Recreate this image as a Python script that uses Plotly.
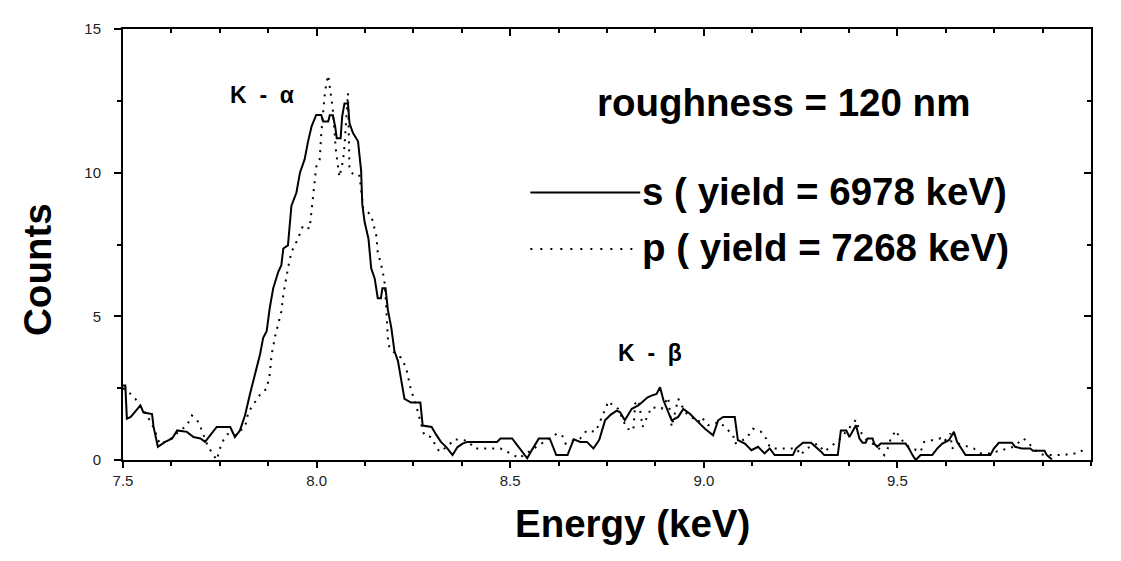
import plotly.graph_objects as go

# ---- data ----
s_energy = [7.500, 7.506, 7.510, 7.520, 7.545, 7.553, 7.575, 7.579, 7.590, 7.609, 7.627, 7.640, 7.665, 7.682,
            7.700, 7.712, 7.725, 7.742, 7.777, 7.789, 7.802, 7.815, 7.828, 7.841, 7.854, 7.862, 7.871, 7.879,
            7.888, 7.901, 7.909, 7.914, 7.926, 7.935, 7.948, 7.957, 7.969, 7.978, 7.987, 7.999, 8.012, 8.017,
            8.030, 8.034, 8.042, 8.048, 8.052, 8.062, 8.066, 8.072, 8.081, 8.085, 8.094, 8.107, 8.115, 8.118,
            8.124, 8.134, 8.141, 8.150, 8.158, 8.166, 8.170, 8.178, 8.184, 8.193, 8.201, 8.210, 8.218, 8.227,
            8.244, 8.268, 8.274, 8.297, 8.308, 8.321, 8.335, 8.351, 8.364, 8.377, 8.389, 8.466, 8.475, 8.505,
            8.518, 8.531, 8.544, 8.557, 8.574, 8.602, 8.613, 8.619, 8.648, 8.664, 8.681, 8.698, 8.715, 8.730,
            8.745, 8.760, 8.775, 8.784, 8.796, 8.814, 8.831, 8.845, 8.855, 8.865, 8.878, 8.887, 8.896, 8.917,
            8.934, 8.947, 8.964, 8.981, 9.003, 9.024, 9.037, 9.050, 9.080, 9.088, 9.106, 9.123, 9.140, 9.157,
            9.170, 9.183, 9.230, 9.238, 9.256, 9.277, 9.290, 9.303, 9.311, 9.346, 9.354, 9.368, 9.376, 9.384,
            9.393, 9.402, 9.410, 9.418, 9.423, 9.436, 9.440, 9.448, 9.457, 9.521, 9.530, 9.539, 9.547, 9.560,
            9.590, 9.603, 9.616, 9.633, 9.646, 9.654, 9.663, 9.676, 9.740, 9.749, 9.762, 9.796, 9.804, 9.821,
            9.843, 9.850, 9.880, 9.886, 9.899]
s_counts = [2.59, 2.59, 1.44, 1.50, 1.90, 1.65, 1.60, 1.15, 0.46, 0.63, 0.75, 1.03, 0.98, 0.80,
            0.75, 0.63, 0.86, 1.15, 1.15, 0.80, 1.03, 1.55, 2.30, 2.99, 3.68, 4.25, 4.48, 5.29,
            5.98, 6.55, 6.78, 7.36, 7.47, 8.85, 9.31, 10.00, 10.46, 11.09, 11.61, 12.01, 12.01, 11.78,
            11.78, 12.00, 12.00, 11.60, 11.20, 11.20, 11.95, 12.41, 12.41, 11.72, 11.38, 11.09, 10.06, 8.90,
            8.28, 7.70, 6.67, 6.32, 5.63, 5.63, 5.98, 5.98, 5.23, 4.60, 3.79, 3.45, 2.76, 2.13,
            2.00, 2.00, 1.20, 1.15, 0.90, 0.63, 0.45, 0.17, 0.45, 0.57, 0.63, 0.63, 0.75, 0.75,
            0.52, 0.29, 0.06, 0.37, 0.75, 0.75, 0.40, 0.17, 0.17, 0.72, 0.63, 0.63, 0.40, 0.70,
            1.38, 1.58, 1.72, 1.66, 1.38, 1.78, 1.90, 2.05, 2.18, 2.24, 2.30, 2.53, 2.07, 1.38,
            1.50, 1.78, 1.61, 1.38, 1.09, 0.86, 1.38, 1.50, 1.50, 0.69, 0.57, 0.34, 0.46, 0.23,
            0.40, 0.17, 0.17, 0.40, 0.60, 0.60, 0.46, 0.29, 0.17, 0.17, 1.03, 1.03, 0.80, 0.98,
            1.21, 0.75, 0.60, 0.60, 0.75, 0.75, 0.57, 0.46, 0.57, 0.57, 0.40, 0.17, 0.00, 0.17,
            0.17, 0.40, 0.57, 0.69, 0.98, 0.63, 0.46, 0.17, 0.17, 0.40, 0.60, 0.60, 0.46, 0.40,
            0.40, 0.32, 0.32, 0.17, 0.02]

p_energy = [7.500, 7.515, 7.532, 7.545, 7.560, 7.580, 7.595, 7.620, 7.645, 7.665, 7.678, 7.695, 7.710, 7.720,
            7.742, 7.755, 7.770, 7.790, 7.805, 7.815, 7.824, 7.840, 7.858, 7.871, 7.879, 7.884, 7.893, 7.909,
            7.914, 7.926, 7.935, 7.952, 7.965, 7.982, 7.991, 7.999, 8.008, 8.012, 8.020, 8.025, 8.030, 8.034,
            8.042, 8.050, 8.059, 8.068, 8.072, 8.081, 8.085, 8.098, 8.111, 8.120, 8.141, 8.154, 8.158, 8.167,
            8.175, 8.180, 8.184, 8.188, 8.205, 8.218, 8.231, 8.244, 8.252, 8.265, 8.278, 8.295, 8.308, 8.317,
            8.330, 8.342, 8.355, 8.381, 8.394, 8.407, 8.475, 8.510, 8.522, 8.557, 8.621, 8.634, 8.643, 8.664,
            8.681, 8.698, 8.720, 8.728, 8.754, 8.763, 8.779, 8.801, 8.818, 8.823, 8.832, 8.842, 8.857, 8.865,
            8.891, 8.908, 8.917, 8.934, 8.943, 8.951, 8.968, 8.986, 8.994, 9.011, 9.041, 9.058, 9.076, 9.080,
            9.110, 9.127, 9.148, 9.161, 9.170, 9.178, 9.240, 9.250, 9.265, 9.294, 9.311, 9.350, 9.393, 9.402,
            9.420, 9.449, 9.466, 9.475, 9.483, 9.496, 9.507, 9.530, 9.560, 9.569, 9.611, 9.620, 9.637, 9.641,
            9.658, 9.697, 9.716, 9.740, 9.800, 9.826, 9.839, 9.865, 9.880, 9.929, 9.950, 9.967, 9.985]
p_counts = [2.50, 2.36, 2.13, 1.85, 1.60, 1.10, 0.55, 0.70, 1.00, 1.20, 1.55, 1.32, 0.80, 0.46,
            0.00, 0.60, 0.90, 0.85, 1.05, 1.15, 1.67, 2.00, 2.36, 2.47, 2.99, 3.68, 4.31, 5.17,
            5.75, 6.67, 7.24, 7.70, 8.16, 8.05, 9.30, 10.20, 10.46, 11.35, 12.59, 13.10, 13.39, 12.93,
            12.18, 10.75, 9.85, 10.40, 10.92, 12.76, 10.10, 9.89, 9.89, 8.79, 8.51, 7.82, 7.24, 6.78,
            6.27, 5.29, 4.25, 3.91, 3.68, 3.56, 3.22, 2.41, 2.13, 1.50, 0.86, 0.80, 0.52, 0.29,
            0.40, 0.52, 0.72, 0.69, 0.63, 0.40, 0.40, 0.17, 0.06, 0.37, 0.92, 0.86, 0.57, 0.69,
            0.75, 1.03, 0.98, 1.21, 2.05, 1.92, 1.78, 1.09, 1.03, 1.97, 2.07, 1.15, 1.61, 1.84,
            1.78, 2.18, 1.15, 2.13, 1.90, 1.67, 1.50, 1.32, 1.50, 1.21, 1.32, 1.09, 0.86, 0.57,
            0.75, 1.09, 0.98, 0.75, 0.46, 0.40, 0.40, 0.17, 0.40, 0.57, 0.29, 0.70, 1.40, 1.03,
            0.70, 0.46, 0.17, 0.40, 0.75, 1.03, 0.75, 0.45, 0.29, 0.63, 0.75, 0.63, 0.92, 0.40,
            0.57, 0.40, 0.23, 0.23, 0.46, 0.75, 0.57, 0.23, 0.17, 0.17, 0.23, 0.23, 0.40]

x_ticks = [7.5, 8.0, 8.5, 9.0, 9.5]
x_tick_labels = ["7.5", "8.0", "8.5", "9.0", "9.5"]
y_ticks = [0, 5, 10, 15]
y_tick_labels = ["0", "5", "10", "15"]
x_range = [7.5, 10.0]
y_range = [0, 15]

x_title = "Energy (keV)"
y_title = "Counts"
s_label = "s ( yield = 6978 keV)"
p_label = "p ( yield = 7268 keV)"
peak_labels = ["K\u00a0\u00a0-\u00a0\u00a0α", "K\u00a0\u00a0-\u00a0\u00a0β"]
peak_pos_x = [7.86, 8.862]
peak_pos_y = [12.7, 3.72]

FONT = "Arial, Liberation Sans, Helvetica, sans-serif"
BIG = 38.5

fig = go.Figure()
fig.add_trace(go.Scatter(x=s_energy, y=s_counts, mode="lines",
                         line=dict(color="black", width=2), showlegend=False, hoverinfo="skip"))
fig.add_trace(go.Scatter(x=p_energy, y=p_counts, mode="lines",
                         line=dict(color="black", width=2, dash="2px,6px"), showlegend=False, hoverinfo="skip"))
# invisible trace to carry the top/right mirrored axes
fig.add_trace(go.Scatter(x=s_energy, y=s_counts, xaxis="x2", yaxis="y2", mode="lines",
                         line=dict(color="rgba(0,0,0,0)", width=0), showlegend=False, hoverinfo="skip"))

# the page body adds an 8px offset, so the figure is 8px smaller on each side
fig.update_layout(
    width=1113, height=553,
    margin=dict(l=115, r=30, t=17, b=101),
    paper_bgcolor="white", plot_bgcolor="white",
    font=dict(family=FONT, color="black"),
    xaxis=dict(range=x_range, tickvals=x_ticks, ticktext=x_tick_labels,
               showline=True, linecolor="black", linewidth=2, mirror=True,
               ticks="outside", ticklen=6, tickwidth=1.5, tickcolor="black",
               minor=dict(ticks="outside", dtick=0.125, tick0=7.5, ticklen=4, tickwidth=1.5, tickcolor="black"),
               showgrid=False, zeroline=False,
               tickfont=dict(size=15, color="#222")),
    yaxis=dict(range=y_range, tickvals=y_ticks, ticktext=y_tick_labels,
               showline=True, linecolor="black", linewidth=2, mirror=True,
               ticks="outside", ticklen=7, tickwidth=1.5, tickcolor="black",
               minor=dict(ticks="outside", dtick=2.5, tick0=0, ticklen=4, tickwidth=1.5, tickcolor="black"),
               showgrid=False, zeroline=False, ticklabelstandoff=10,
               tickfont=dict(size=15, color="#222")),
    xaxis2=dict(range=x_range, overlaying="x", side="top", tickvals=x_ticks,
                showticklabels=False, ticks="inside", ticklen=7, tickwidth=1.5, tickcolor="black",
                minor=dict(ticks="inside", dtick=0.125, tick0=7.5, ticklen=4, tickwidth=1.5, tickcolor="black"),
                showgrid=False, zeroline=False, showline=False),
    yaxis2=dict(range=y_range, overlaying="y", side="right", tickvals=y_ticks,
                showticklabels=False, ticks="inside", ticklen=7, tickwidth=1.5, tickcolor="black",
                minor=dict(ticks="inside", dtick=2.5, tick0=0, ticklen=4, tickwidth=1.5, tickcolor="black"),
                showgrid=False, zeroline=False, showline=False),
)

annotations = []
for lab, px, py in zip(peak_labels, peak_pos_x, peak_pos_y):
    annotations.append(dict(x=px, y=py, xref="x", yref="y", text="<b>" + lab + "</b>", showarrow=False,
                            font=dict(size=23, family=FONT), xanchor="center", yanchor="middle"))
annotations.append(dict(x=0.682, y=0.83, xref="paper", yref="paper", text="<b>roughness = 120 nm</b>",
                        showarrow=False, font=dict(size=BIG, family=FONT), xanchor="center", yanchor="middle"))
annotations.append(dict(x=0.534, y=0.622, xref="paper", yref="paper", text="<b>" + s_label + "</b>",
                        showarrow=False, font=dict(size=BIG, family=FONT), xanchor="left", yanchor="middle"))
annotations.append(dict(x=0.534, y=0.492, xref="paper", yref="paper", text="<b>" + p_label + "</b>",
                        showarrow=False, font=dict(size=BIG, family=FONT), xanchor="left", yanchor="middle"))
# axis titles placed as in the reference (offset from the plot centre)
annotations.append(dict(x=0.5266, y=-0.148, xref="paper", yref="paper", text="<b>" + x_title + "</b>",
                        showarrow=False, font=dict(size=BIG, family=FONT), xanchor="center", yanchor="middle"))
annotations.append(dict(x=-0.0878, y=0.441, xref="paper", yref="paper", text="<b>" + y_title + "</b>",
                        showarrow=False, textangle=-90, font=dict(size=BIG, family=FONT),
                        xanchor="center", yanchor="middle"))
fig.update_layout(annotations=annotations)

fig.add_shape(type="line", xref="paper", yref="paper", x0=0.4208, x1=0.5343, y0=0.6207, y1=0.6207,
              line=dict(color="black", width=2))
fig.add_shape(type="line", xref="paper", yref="paper", x0=0.4208, x1=0.5343, y0=0.4897, y1=0.4897,
              line=dict(color="black", width=2, dash="2px,8px"))

fig.write_html("out.html")
